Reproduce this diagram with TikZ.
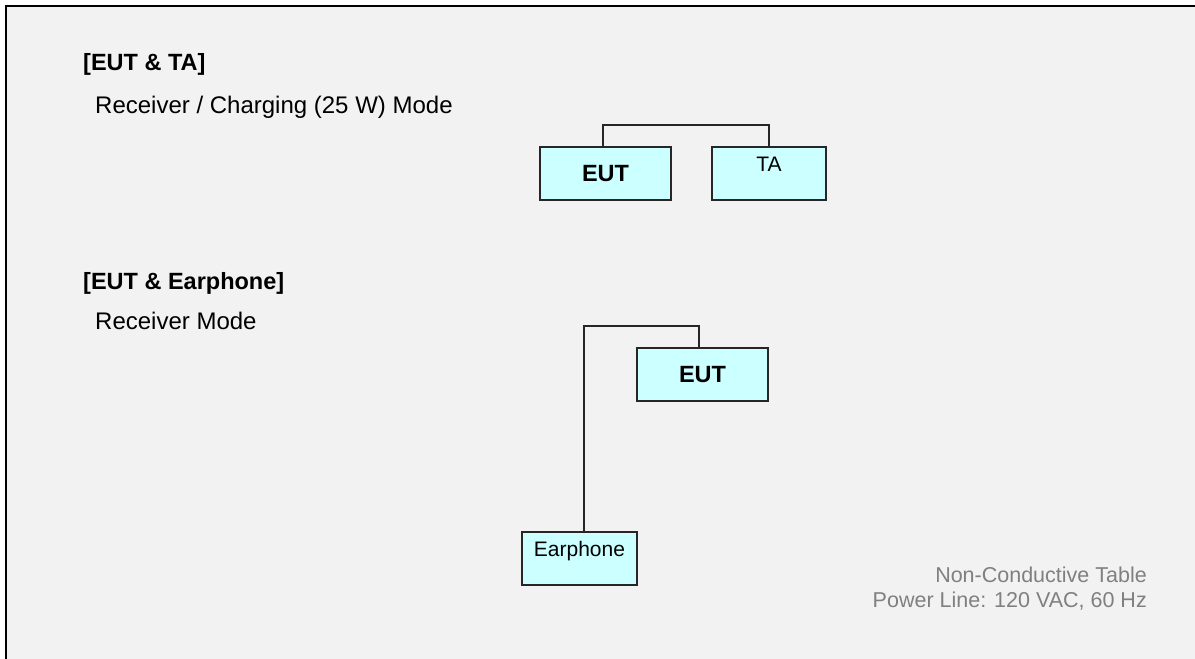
\documentclass[tikz,border=0pt]{standalone}
\usepackage{fontspec}
\setmainfont{Liberation Sans}
\usepackage{tikz}
\definecolor{paneback}{HTML}{F2F2F2}
\definecolor{boxcyan}{HTML}{CCFFFF}
\definecolor{notegray}{HTML}{808080}

\begin{document}
\begin{tikzpicture}[x=1pt, y=-1pt,
        unitbox/.style={draw=black!85, fill=boxcyan, line width=1.5pt, inner sep=0pt, minimum height=53pt},
        toplabel/.style={text height=15pt, text depth=19pt},
        cable/.style={draw=black!85, line width=1.7pt},
        heading/.style={anchor=base west, inner sep=0pt, font=\fontsize{23.5}{28}\selectfont\bfseries},
        modetext/.style={anchor=base west, inner sep=0pt, font=\fontsize{24}{28}\selectfont}]
        \useasboundingbox (0,0) rectangle (1195,659);
        \fill[paneback] (5.5,5.7) rectangle (1195,659);
        \draw[line width=2pt] (5.5,659) -- (5.5,5.7) -- (1195,5.7);

        \node[heading] (hdta) at (83,70.5) {[EUT \& TA]};
        \node[modetext] (mdta) at (95,113.3) {Receiver / Charging (25 W) Mode};
        \node[unitbox, minimum width=131pt, font=\fontsize{23.5}{28}\selectfont\bfseries] (euta) at (605.5,173.5) {EUT};
        \node[unitbox, toplabel, minimum width=114pt, font=\fontsize{21}{25}\selectfont] (ta) at (769,173.5) {TA};
        \draw[cable] ([xshift=-2.5pt]euta.north) -- ++(0,-21) -| (ta.north);

        \node[heading] (hdear) at (83,289) {[EUT \& Earphone]};
        \node[modetext] (mdear) at (95,329) {Receiver Mode};
        \node[unitbox, minimum width=131pt, font=\fontsize{23.5}{28}\selectfont\bfseries] (eutb) at (702.5,374.5) {EUT};
        \node[unitbox, toplabel, minimum width=115pt, font=\fontsize{21}{25}\selectfont] (earphone) at (579.5,558.5) {Earphone};
        \draw[cable] ([xshift=-3.5pt]eutb.north) -- ++(0,-21) -| ([xshift=4.5pt]earphone.north);

        \node[anchor=base east, align=right, inner sep=0pt, text=notegray, font=\fontsize{21.5}{24.4}\selectfont] (note) at (1147,607.3) {Non-Conductive Table\\Power Line: 120 VAC, 60 Hz};
    \end{tikzpicture}
\end{document}
